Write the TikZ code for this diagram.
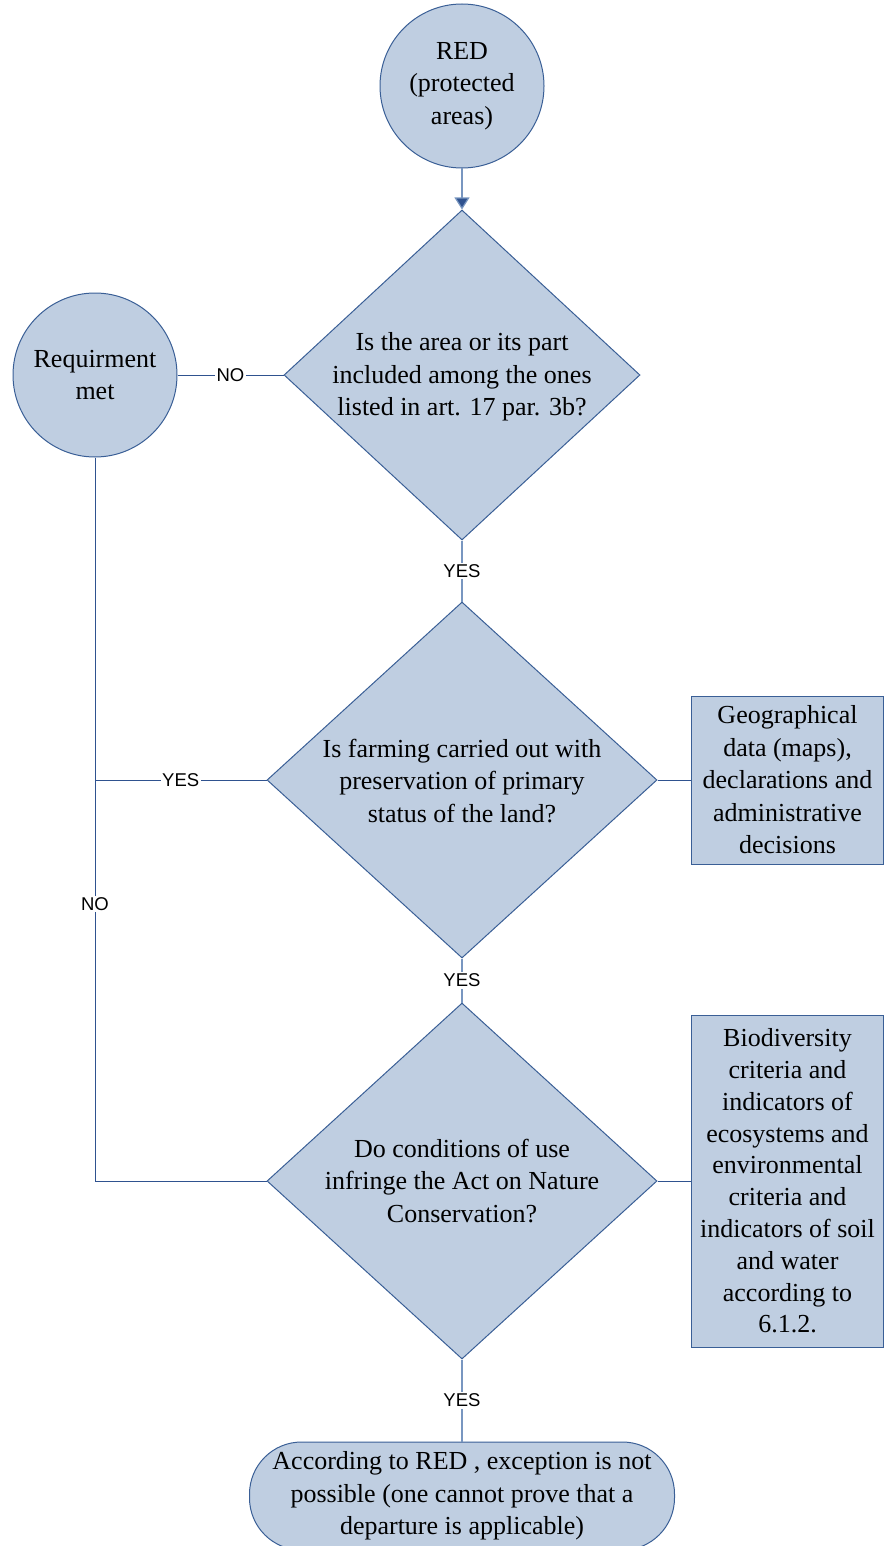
\documentclass[tikz,border=0pt]{standalone}
\usepackage{fontspec}
\setmainfont{Liberation Serif}
\newfontfamily\lblfont{Liberation Sans}
\usetikzlibrary{shapes.geometric,arrows.meta}
\definecolor{boxfill}{RGB}{191,206,225}
\definecolor{boxline}{RGB}{58,95,150}
\definecolor{conn}{RGB}{47,82,143}
\definecolor{connlight}{RGB}{120,150,192}
\begin{document}
\begin{tikzpicture}[x=1pt,y=-1pt,
  shapebase/.style={draw=boxline, fill=boxfill, line width=1pt},
  circ/.style={shapebase, circle, minimum size=164pt, inner sep=0pt},
  dia/.style={shapebase, diamond, inner sep=0pt},
  txt/.style={align=center, font=\fontsize{26}{32.5}\selectfont, inner sep=0pt},
  databox/.style={shapebase, rectangle, inner sep=0pt},
  term/.style={shapebase, rectangle, rounded corners=52pt, minimum width=425pt, minimum height=108pt, inner sep=0pt},
  lbl/.style={fill=white, font=\lblfont\fontsize{18.5}{18.5}\selectfont, inner sep=1.5pt, text=black},
  link/.style={draw=conn, line width=1pt},
  linklight/.style={draw=connlight, line width=1.2pt}
]
\useasboundingbox (0,0) rectangle (885,1546);
\clip (0,0) rectangle (885,1546);

% nodes
\node[circ, txt] (red) at (462,86) {RED\\(protected\\areas)};
\node[circ, txt] (req) at (95,375) {Requirment\\met};

\node[dia, minimum width=356pt, minimum height=330pt] (d1) at (462,375) {};
\node[txt] (t1) at (462,377) {Is the area or its part\\included among the ones\\listed in art. 17 par. 3b?};

\node[dia, minimum width=390pt, minimum height=356pt] (d2) at (462,780) {};
\node[txt] (t2) at (462,781) {Is farming carried out with\\preservation of primary\\status of the land?};

\node[dia, minimum width=390pt, minimum height=356pt] (d3) at (462,1181) {};
\node[txt] (t3) at (462,1181) {Do conditions of use\\infringe the Act on Nature\\Conservation?};

\node[databox, txt, minimum width=192pt, minimum height=168pt] (b1) at (787.5,780)
  {Geographical\\data (maps),\\declarations and\\administrative\\decisions};
\node[databox, txt, minimum width=192pt, minimum height=332pt, font=\fontsize{26}{31.8}\selectfont] (b2) at (787.5,1181)
  {Biodiversity\\criteria and\\indicators of\\ecosystems and\\environmental\\criteria and\\indicators of soil\\and water\\according to\\6.1.2.};

\node[term, txt] (end) at (462,1496)
  {According to RED , exception is not\\possible (one cannot prove that a\\departure is applicable)};

\coordinate (c2) at (req.south |- d2.west);
\coordinate (c3) at (req.south |- d3.west);

% connectors
\draw[linklight, -{Triangle[length=12pt,width=15pt,fill=conn]}] (red.south) -- (d1.north);
\draw[link] (req.east) -- node[lbl] {NO} (d1.west);
\draw[linklight] (d1.south) -- node[lbl] {YES} (d2.north);
\draw[linklight] (d2.south) -- node[lbl] {YES} (d3.north);
\draw[linklight] (d3.south) -- node[lbl] {YES} (end.north);
\draw[link] (d2.west) -- node[lbl] {YES} (c2);
\draw[link] (d3.west) -- (c3) -- node[lbl, pos=0.383] {NO} (req.south);
\draw[link] (d2.east) -- (b1.west);
\draw[link] (d3.east) -- (b2.west);
\end{tikzpicture}
\end{document}
